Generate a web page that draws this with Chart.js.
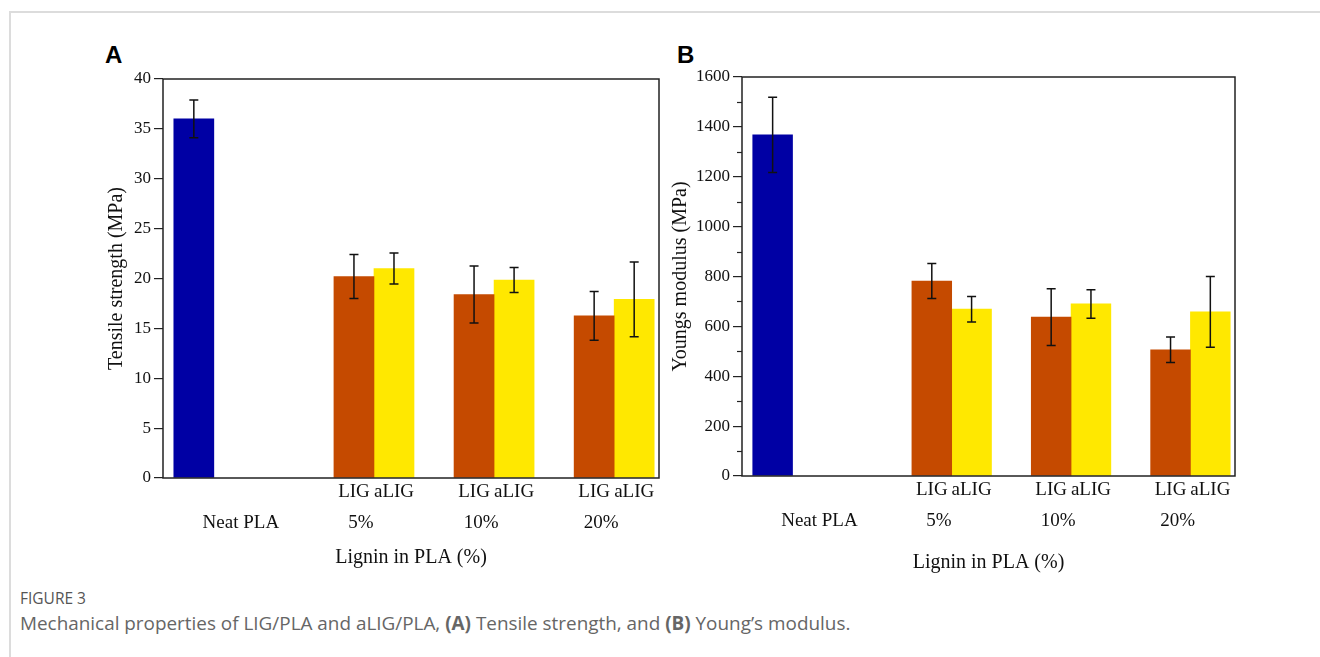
<!DOCTYPE html>
<html>
<head>
<meta charset="utf-8">
<script src="https://cdn.jsdelivr.net/npm/chart.js@4.4.1/dist/chart.umd.min.js"></script>
<style>
    html, body { margin: 0; padding: 0; background: #fff; }
    body { width: 1320px; height: 657px; position: relative; overflow: hidden; }
    .frame { position: absolute; left: 9px; top: 11px; right: 0; bottom: 0;
             border-top: 2px solid #dcdcdc; border-left: 2px solid #dcdcdc; }
    .panel { position: absolute; font: bold 24px "Liberation Sans", Arial, sans-serif; color: #000; }
    .box { position: absolute; }
    .fig-no { position: absolute; left: 20px; top: 587px; font: 15.5px "Open Sans", sans-serif; color: #555; }
    .caption { position: absolute; left: 20px; top: 610px; font: 18.9px "Open Sans", sans-serif; color: #666; white-space: nowrap; }
    .caption b { font-weight: 700; }
</style>
</head>
<body>
<div class="frame"></div>
<div class="panel" style="left:105px; top:41px;">A</div>
<div class="panel" style="left:677px; top:41px;">B</div>
<div class="box" style="left:95px; top:60px; width:590px; height:515px;"><canvas id="chartA"></canvas></div>
<div class="box" style="left:655px; top:60px; width:600px; height:515px;"><canvas id="chartB"></canvas></div>
<div class="fig-no">FIGURE 3</div>
<div class="caption">Mechanical properties of LIG/PLA and aLIG/PLA, <b>(A)</b> Tensile strength, and <b>(B)</b> Young’s modulus.</div>

<script>
// groups along the x axis (index = group position)
const categories = ['Neat PLA', '5%', '10%', '20%'];
const seriesNames = ['Neat PLA', 'LIG', 'aLIG'];
const colors = ['#0000a4', '#c54a00', '#ffe800'];

// (A) tensile strength, MPa
const tensileNeat = [36.0, null, null, null];
const tensileLIG = [null, 20.2, 18.4, 16.25];
const tensileALIG = [null, 21.0, 19.85, 17.9];
const tensileNeatErr = [1.9, null, null, null];
const tensileLIGErr = [null, 2.2, 2.85, 2.45];
const tensileALIGErr = [null, 1.55, 1.25, 3.75];
const tensileTicks = [0, 5, 10, 15, 20, 25, 30, 35, 40];

// (B) Young's modulus, MPa
const modulusNeat = [1368, null, null, null];
const modulusLIG = [null, 782, 637, 506];
const modulusALIG = [null, 669, 690, 658];
const modulusNeatErr = [151, null, null, null];
const modulusLIGErr = [null, 70, 114, 51];
const modulusALIGErr = [null, 51, 57, 142];
const modulusTicks = [0, 200, 400, 600, 800, 1000, 1200, 1400, 1600];

const serif = 'Liberation Serif';

function toPoints(values) {
    return values.map((v, i) => ({ x: i, y: v }));
}

// error bars, the closed frame, minor ticks and the LIG / aLIG labels
const extras = {
    id: 'extras',
    afterDatasetsDraw(chart, args, opts) {
        const ctx = chart.ctx;
        const area = chart.chartArea;
        const y = chart.scales.y;
        ctx.save();

        // error bars
        ctx.strokeStyle = '#111';
        ctx.lineWidth = 1.5;
        chart.data.datasets.forEach((ds, di) => {
            const meta = chart.getDatasetMeta(di);
            meta.data.forEach((bar, i) => {
                const v = ds.data[i].y;
                const e = ds.errors[i];
                if (v == null || e == null) return;
                const top = y.getPixelForValue(v + e);
                const bot = y.getPixelForValue(v - e);
                ctx.beginPath();
                ctx.moveTo(bar.x, top); ctx.lineTo(bar.x, bot);
                ctx.moveTo(bar.x - 4.5, top); ctx.lineTo(bar.x + 4.5, top);
                ctx.moveTo(bar.x - 4.5, bot); ctx.lineTo(bar.x + 4.5, bot);
                ctx.stroke();
            });
        });

        // minor ticks
        if (opts.minorStep) {
            ctx.strokeStyle = '#222';
            ctx.lineWidth = 1.2;
            for (let v = y.min + opts.minorStep; v < y.max; v += opts.minorStep * 2) {
                const py = Math.round(y.getPixelForValue(v)) + 0.5;
                ctx.beginPath();
                ctx.moveTo(area.left - 5, py); ctx.lineTo(area.left, py);
                ctx.stroke();
            }
        }

        // frame
        ctx.strokeStyle = '#222';
        ctx.lineWidth = 1.5;
        ctx.strokeRect(area.left, area.top, area.right - area.left, area.bottom - area.top);

        // series names under each bar
        ctx.fillStyle = '#111';
        ctx.font = `19px "${serif}"`;
        ctx.textAlign = 'center';
        ctx.textBaseline = 'middle';
        chart.data.datasets.forEach((ds, di) => {
            if (di === 0) return;
            const meta = chart.getDatasetMeta(di);
            meta.data.forEach((bar, i) => {
                if (ds.data[i].y == null) return;
                ctx.fillText(ds.label, bar.x, area.bottom + 14);
            });
        });
        ctx.restore();
    }
};

function makeChart(id, cfg) {
    const datasets = cfg.values.map((vals, k) => ({
        label: seriesNames[k],
        data: toPoints(vals),
        errors: cfg.errors[k],
        backgroundColor: colors[k],
        borderWidth: 0,
        categoryPercentage: 1,
        barPercentage: 1
    }));

    return new Chart(document.getElementById(id), {
        type: 'bar',
        data: { datasets: datasets },
        plugins: [extras],
        options: {
            responsive: true,
            maintainAspectRatio: false,
            animation: false,
            layout: { padding: cfg.padding },
            plugins: {
                legend: { display: false },
                tooltip: { enabled: false },
                extras: { minorStep: cfg.minorStep }
            },
            scales: {
                x: {
                    type: 'linear',
                    offset: false,
                    min: -0.59,
                    max: 3.54,
                    afterBuildTicks: (scale) => {
                        scale.ticks = categories.map((c, i) => ({ value: i }));
                    },
                    afterFit: (scale) => { scale.height = cfg.xHeight; },
                    grid: { display: false, offset: false },
                    border: { display: false },
                    ticks: {
                        autoSkip: false,
                        maxRotation: 0,
                        padding: 26,
                        labelOffset: 7,
                        color: '#111',
                        font: { family: serif, size: 19 },
                        callback: (value) => categories[value]
                    },
                    title: {
                        display: true,
                        text: 'Lignin in PLA (%)',
                        color: '#111',
                        font: { family: serif, size: 20 },
                        padding: { top: 0, bottom: cfg.xTitlePad }
                    }
                },
                y: {
                    min: cfg.ticks[0],
                    max: cfg.ticks[cfg.ticks.length - 1],
                    afterBuildTicks: (scale) => {
                        scale.ticks = cfg.ticks.map(v => ({ value: v }));
                    },
                    afterFit: (scale) => { scale.width = cfg.yWidth; },
                    grid: {
                        drawOnChartArea: false,
                        drawTicks: true,
                        tickLength: 9,
                        color: '#222',
                        lineWidth: 1.2
                    },
                    border: { display: false },
                    ticks: {
                        padding: 3,
                        color: '#111',
                        font: { family: serif, size: 17 },
                        callback: (value) => String(value)
                    },
                    title: {
                        display: true,
                        text: cfg.yTitle,
                        color: '#111',
                        font: { family: serif, size: 20 },
                        padding: { top: cfg.yTitlePad, bottom: 0 }
                    }
                }
            }
        }
    });
}

makeChart('chartA', {
    values: [tensileNeat, tensileLIG, tensileALIG],
    errors: [tensileNeatErr, tensileLIGErr, tensileALIGErr],
    ticks: tensileTicks,
    yTitle: 'Tensile strength (MPa)',
    padding: { top: 19, right: 26, left: 0, bottom: 0 },
    xHeight: 97,
    yWidth: 68,
    xTitlePad: 5,
    yTitlePad: 10,
    minorStep: 0
});

makeChart('chartB', {
    values: [modulusNeat, modulusLIG, modulusALIG],
    errors: [modulusNeatErr, modulusLIGErr, modulusALIGErr],
    ticks: modulusTicks,
    yTitle: 'Youngs modulus (MPa)',
    padding: { top: 17, right: 20, left: 0, bottom: 0 },
    xHeight: 99,
    yWidth: 87,
    xTitlePad: 0,
    yTitlePad: 14,
    minorStep: 100
});
</script>
</body>
</html>
